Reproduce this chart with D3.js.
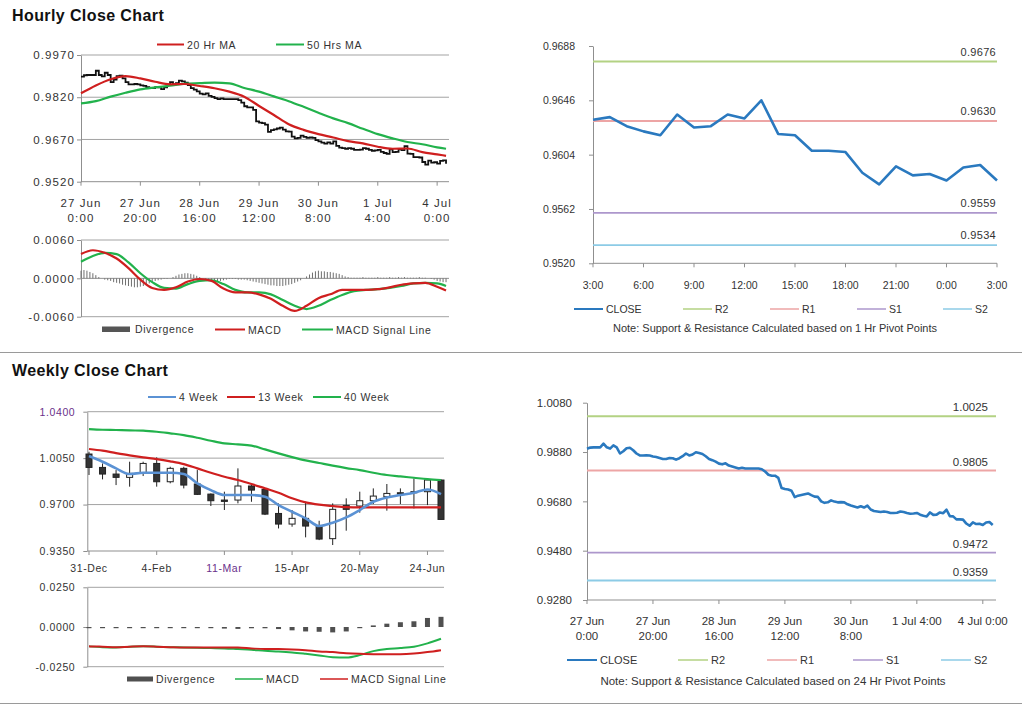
<!DOCTYPE html>
<html><head><meta charset="utf-8">
<script src="https://cdn.jsdelivr.net/npm/d3@7"></script>
<style>
body{margin:0;background:#fff;}
svg{display:block;font-family:"Liberation Sans",Arial,sans-serif;}
</style></head><body>
<svg id="c" width="1024" height="706"></svg>
<script>
// ---------------- DATA ----------------
const hourTickIdx = [0,20,40,60,80,100,120];
const hourLabels = [["27 Jun","0:00"],["27 Jun","20:00"],["28 Jun","16:00"],["29 Jun","12:00"],["30 Jun","8:00"],["1 Jul","4:00"],["4 Jul","0:00"]];
const hourLabelsF = [["27 Jun","0:00"],["27 Jun","20:00"],["28 Jun","16:00"],["29 Jun","12:00"],["30 Jun","8:00"],["1 Jul 4:00"],["4 Jul 0:00"]];

const hourlyClose = [
0.9893,0.9898,0.9899,0.9899,0.9899,0.9914,0.9899,0.9894,0.9907,0.9899,
0.9874,0.9883,0.9895,0.9897,0.9887,0.9874,0.9866,0.9866,0.9867,0.9866,
0.9862,0.9860,0.9856,0.9852,0.9852,0.9856,0.9855,0.9849,0.9855,0.9863,
0.9874,0.9866,0.9870,0.9879,0.9876,0.9872,0.9863,0.9852,0.9847,0.9841,
0.9833,0.9830,0.9834,0.9825,0.9821,0.9817,0.9813,0.9816,0.9813,0.9813,
0.9813,0.9813,0.9813,0.9810,0.9801,0.9788,0.9784,0.9784,0.9775,0.9734,
0.9730,0.9728,0.9723,0.9697,0.9703,0.9706,0.9709,0.9712,0.9705,0.9699,
0.9698,0.9680,0.9674,0.9676,0.9684,0.9679,0.9676,0.9677,0.9676,0.9668,
0.9663,0.9659,0.9655,0.9660,0.9655,0.9663,0.9647,0.9641,0.9639,0.9637,
0.9639,0.9637,0.9633,0.9633,0.9634,0.9639,0.9637,0.9633,0.9630,
0.9631,0.9633,0.9626,0.9622,0.9619,0.9635,0.9625,0.9626,0.9635,0.9632,
0.9646,0.9620,0.9619,0.9607,0.9607,0.9606,0.9590,0.9581,0.9595,0.9588,
0.9589,0.9584,0.9594,0.9596,0.9584];

const maIdx = [0,5,10,15,20,25,30,35,40,45,50,55,60,65,70,75,80,85,90,95,100,105,110,115,120,123];
const ma20 = [0.9834,0.9862,0.9884,0.9895,0.9887,0.9875,0.9866,0.9867,0.9860,0.9852,0.9840,0.9822,0.9789,0.9757,0.9724,0.9704,0.9689,0.9677,0.9664,0.9656,0.9644,0.9637,0.9638,0.9625,0.9617,0.9612];
const ma50 = [0.9798,0.9806,0.9822,0.9836,0.9848,0.9855,0.9861,0.9868,0.9870,0.9872,0.9869,0.9853,0.9840,0.9823,0.9806,0.9786,0.9765,0.9745,0.9728,0.9708,0.9689,0.9674,0.9661,0.9653,0.9642,0.9637];

const macdIdx = [0,4,8,12,16,20,24,28,32,36,40,44,48,52,56,60,64,68,72,76,80,84,88,92,96,100,104,108,112,116,120,123];
const macdH = [0.0038,0.0044,0.0040,0.0031,0.0016,-0.0002,-0.0015,-0.0018,-0.0014,-0.0005,-0.0001,-0.0004,-0.0016,-0.0022,-0.0022,-0.0025,-0.0032,-0.0043,-0.0051,-0.0043,-0.0031,-0.0025,-0.0018,-0.0018,-0.0018,-0.0017,-0.0014,-0.0010,-0.0008,-0.0007,-0.0013,-0.0019];
const signalH = [0.0026,0.0035,0.0040,0.0038,0.0025,0.0008,-0.0006,-0.0015,-0.0016,-0.0009,-0.0004,-0.0003,-0.0009,-0.0018,-0.0022,-0.0022,-0.0025,-0.0034,-0.0043,-0.0048,-0.0043,-0.0034,-0.0026,-0.0020,-0.0018,-0.0017,-0.0015,-0.0012,-0.0008,-0.0007,-0.0008,-0.0012];
const divergenceH = [
0.0012,0.0013,0.0012,0.0010,0.0008,0.0005,0.0002,0.0000,-0.0002,-0.0003,
-0.0004,-0.0006,-0.0007,-0.0008,-0.0010,-0.0011,-0.0012,-0.0013,-0.0014,-0.0014,
-0.0013,-0.0012,-0.0010,-0.0008,-0.0006,-0.0004,-0.0003,-0.0002,-0.0001,-0.0001,
0.0000,0.0002,0.0004,0.0006,0.0007,0.0008,0.0008,0.0007,0.0006,0.0004,
0.0002,0.0000,-0.0002,-0.0003,-0.0004,-0.0005,-0.0005,-0.0004,-0.0003,-0.0002,
-0.0001,-0.0001,-0.0001,-0.0002,-0.0002,-0.0002,-0.0003,-0.0004,-0.0005,-0.0006,
-0.0007,-0.0008,-0.0009,-0.0010,-0.0011,-0.0011,-0.0012,-0.0012,-0.0012,-0.0011,
-0.0010,-0.0009,-0.0007,-0.0005,-0.0003,0.0000,0.0003,0.0006,0.0009,0.0011,
0.0012,0.0011,0.0011,0.0010,0.0010,0.0009,0.0008,0.0007,0.0005,0.0003,
0.0002,0.0001,0.0001,0.0001,0.0001,0.0002,0.0001,0.0001,0.0001,0.0001,
0.0002,0.0001,0.0001,0.0001,0.0002,0.0001,0.0001,0.0002,0.0001,0.0002,
0.0001,0.0001,0.0001,0.0001,0.0002,0.0001,0.0001,0.0000,-0.0001,-0.0002,
-0.0004,-0.0005,-0.0006,-0.0006];

const lastDayLabels = ["3:00","6:00","9:00","12:00","15:00","18:00","21:00","0:00","3:00"];
const lastDayTicks = [0,3,6,9,12,15,18,21,24];
const pivotNames = ["R2","R1","S1","S2"];
const pivotColors = ["#b3d283","#eda5a5","#ad97cc","#8ccbe6"];
const pivot1h = [0.9676,0.9630,0.9559,0.9534];
const pivot24h = [1.0025,0.9805,0.9472,0.9359];

const weekLabels = ["31-Dec","4-Feb","11-Mar","15-Apr","20-May","24-Jun"];
const weekTicks = [0,5,10,15,20,25];
const wOpen  = [1.0081,0.9980,0.9930,0.9905,0.9935,1.0010,0.9872,0.9973,0.9855,0.9779,0.9734,0.9734,0.9840,0.9814,0.9633,0.9553,0.9596,0.9538,0.9443,0.9694,0.9689,0.9729,0.9759,0.9789,0.9797,0.9797,0.9885];
const wHigh  = [1.0098,1.0010,0.9960,1.0023,1.0023,1.0056,0.9985,0.9985,0.9960,0.9784,0.9797,0.9973,0.9847,0.9822,0.9709,0.9659,0.9722,0.9578,0.9709,0.9747,0.9797,0.9822,0.9855,0.9822,0.9897,0.9897,0.9890];
const wLow   = [0.9923,0.9890,0.9847,0.9835,0.9915,0.9835,0.9860,0.9822,0.9772,0.9689,0.9659,0.9709,0.9721,0.9621,0.9520,0.9533,0.9453,0.9432,0.9395,0.9503,0.9639,0.9704,0.9654,0.9704,0.9671,0.9696,0.9588];
const wClose = [0.9980,0.9930,0.9905,0.9935,1.0010,0.9872,0.9973,0.9847,0.9777,0.9729,0.9724,0.9840,0.9809,0.9628,0.9553,0.9596,0.9538,0.9440,0.9664,0.9664,0.9729,0.9764,0.9784,0.9779,0.9789,0.9885,0.9588];
const ma4w  = [1.0066,1.0023,0.9973,0.9930,0.9940,0.9940,0.9940,0.9930,0.9860,0.9809,0.9772,0.9772,0.9772,0.9759,0.9696,0.9646,0.9596,0.9538,0.9563,0.9603,0.9659,0.9721,0.9754,0.9772,0.9789,0.9814,0.9779];
const ma13w = [1.0119,1.0106,1.0088,1.0071,1.0056,1.0043,1.0026,1.0005,0.9973,0.9940,0.9910,0.9885,0.9855,0.9822,0.9789,0.9747,0.9716,0.9699,0.9689,0.9681,0.9679,0.9679,0.9679,0.9679,0.9679,0.9679,0.9679];
const ma40w = [1.0269,1.0264,1.0262,1.0259,1.0257,1.0249,1.0237,1.0224,1.0204,1.0181,1.0161,1.0154,1.0144,1.0116,1.0086,1.0058,1.0033,1.0013,0.9993,0.9975,0.9960,0.9940,0.9923,0.9912,0.9902,0.9892,0.9885];
const wDiv    = [-0.0004,-0.0006,-0.0006,-0.0004,-0.0004,-0.0004,-0.0004,-0.0006,-0.0006,-0.0006,-0.0010,-0.0012,-0.0008,-0.0008,-0.0013,-0.0021,-0.0028,-0.0030,-0.0034,-0.0028,-0.0002,0.0010,0.0021,0.0030,0.0036,0.0057,0.0064];
const wMacd   = [-0.0122,-0.0127,-0.0129,-0.0124,-0.0122,-0.0124,-0.0127,-0.0129,-0.0131,-0.0133,-0.0135,-0.0139,-0.0143,-0.0150,-0.0154,-0.0160,-0.0169,-0.0179,-0.0190,-0.0192,-0.0177,-0.0152,-0.0139,-0.0133,-0.0124,-0.0103,-0.0074];
const wSignal = [-0.0122,-0.0124,-0.0127,-0.0124,-0.0122,-0.0124,-0.0127,-0.0129,-0.0129,-0.0129,-0.0129,-0.0129,-0.0135,-0.0139,-0.0139,-0.0141,-0.0146,-0.0154,-0.0158,-0.0165,-0.0169,-0.0171,-0.0171,-0.0171,-0.0167,-0.0158,-0.0146];

// ---------------- DRAW ----------------
const RED = "#cf1f1f", GREEN = "#22b24c", BLUE = "#2a79bf", BLUE4 = "#5b92d4";
const AX = "#8f8f8f", GRID = "#a3a3a3", TXT = "#333";
const svg = d3.select("#c");
const f4raw = d3.format(".4f");
const f4 = v => f4raw(v).replace("\u2212", "-");

function hline(g, x1, x2, y, color, w){ g.append("line").attr("x1",x1).attr("x2",x2).attr("y1",y).attr("y2",y).attr("stroke",color).attr("stroke-width",w||1); }
function vline(g, x, y1, y2, color, w){ g.append("line").attr("x1",x).attr("x2",x).attr("y1",y1).attr("y2",y2).attr("stroke",color).attr("stroke-width",w||1); }
function txt(g, x, y, s, o){
  o = o || {};
  return g.append("text").attr("x",x).attr("y",y).text(s)
    .attr("font-size",o.size||11).attr("fill",o.fill||TXT)
    .attr("text-anchor",o.anchor||"start")
    .attr("letter-spacing",o.ls||0)
    .attr("font-weight",o.bold?"bold":null);
}
function yAxis(g, scale, ticks, x, pad, fontSize, ls, fmt, colors){
  const ax = d3.axisLeft(scale).tickValues(ticks).tickSize(4).tickSizeOuter(0).tickPadding(pad).tickFormat(fmt||f4);
  const a = g.append("g").attr("transform",`translate(${x},0)`).call(ax);
  a.select(".domain").attr("stroke",AX);
  a.selectAll(".tick line").attr("stroke",AX);
  a.selectAll(".tick text").attr("fill",(d,i)=>colors&&colors[i]?colors[i]:TXT).attr("font-size",fontSize).attr("letter-spacing",ls)
    .attr("font-family",'"Liberation Sans",Arial,sans-serif');
  return a;
}
function xAxisTicks(g, scale, ticks, y, x1, x2){
  hline(g, x1, x2, y, AX);
  ticks.forEach(t => vline(g, scale(t), y, y+4, AX));
}
function legendLine(g, x, y, len, color, label, o){
  hline(g, x, x+len, y, color, o&&o.w||2);
  txt(g, x+len+3, y+4, label, o);
}

// titles & separators
txt(svg, 12, 21, "Hourly Close Chart", {size:16, bold:true, fill:"#111", ls:0.4});
txt(svg, 12, 376, "Weekly Close Chart", {size:16, bold:true, fill:"#111", ls:0.4});
hline(svg, 0, 1022, 352.5, "#9a9a9a", 1.2);
hline(svg, 0, 1022, 703.5, "#9a9a9a", 1.2);

// ---- Panel A: hourly price ----
{
  const g = svg.append("g");
  const x = d3.scaleLinear().domain([0,124]).range([81,449]);
  const y = d3.scaleLinear().domain([0.9520,0.9970]).range([181.7,55]);
  [0.9970,0.9820,0.9670].forEach(v => hline(g, 81, 449, y(v), GRID));
  yAxis(g, y, [0.9520,0.9670,0.9820,0.9970], 81, 2, 11.5, 1.1);
  xAxisTicks(g, x, hourTickIdx, y(0.9520), 81, 449);
  hourTickIdx.forEach((t,i) => {
    txt(g, x(t), 207, hourLabels[i][0], {anchor:"middle", size:11.5, ls:1.1});
    txt(g, x(t), 222, hourLabels[i][1], {anchor:"middle", size:11.5, ls:1.1});
  });
  const step = d3.line().x((d,i)=>x(i)).y(d=>y(d)).curve(d3.curveStepAfter);
  g.append("path").attr("d", step(hourlyClose)).attr("fill","none").attr("stroke","#111").attr("stroke-width",1.8);
  const ln = (arr) => d3.line().x((d,i)=>x(maIdx[i])).y(d=>y(d)).curve(d3.curveMonotoneX)(arr);
  g.append("path").attr("d", ln(ma50)).attr("fill","none").attr("stroke",GREEN).attr("stroke-width",2.2);
  g.append("path").attr("d", ln(ma20)).attr("fill","none").attr("stroke",RED).attr("stroke-width",2.2);
  legendLine(g, 157, 44.5, 27, RED, "20 Hr MA", {size:10.5, ls:0.6});
  legendLine(g, 276, 44.5, 28, GREEN, "50 Hrs MA", {size:10.5, ls:0.6});
}

// ---- Panel B: hourly MACD ----
{
  const g = svg.append("g");
  const x = d3.scaleLinear().domain([0,124]).range([81,449]);
  const y = d3.scaleLinear().domain([-0.006,0.006]).range([316.7,240]);
  hline(g, 81, 449, y(0.006), GRID);
  hline(g, 81, 449, y(-0.006), GRID);
  hline(g, 81, 449, y(0), AX);
  yAxis(g, y, [-0.006,0,0.006], 81, 2, 11.5, 1.1);
  divergenceH.forEach((d,i) => vline(g, x(i), y(0), y(d), "#6f6f6f", 1));
  const ln = (arr) => d3.line().x((d,i)=>x(macdIdx[i])).y(d=>y(d)).curve(d3.curveMonotoneX)(arr);
  g.append("path").attr("d", ln(signalH)).attr("fill","none").attr("stroke",GREEN).attr("stroke-width",2.2);
  g.append("path").attr("d", ln(macdH)).attr("fill","none").attr("stroke",RED).attr("stroke-width",2.2);
  g.append("rect").attr("x",102).attr("y",326.5).attr("width",28).attr("height",5.5).attr("fill","#555");
  txt(g, 135, 333, "Divergence", {size:10.5, ls:0.6});
  legendLine(g, 215, 329.5, 30, RED, "MACD", {size:10.5, ls:0.6});
  legendLine(g, 302, 329.5, 31, GREEN, "MACD Signal Line", {size:10.5, ls:0.6});
}

// ---- Panel C: last 24h with 1h pivots ----
{
  const g = svg.append("g");
  const lastDay = hourlyClose.slice(hourlyClose.length - 25);
  const x = d3.scaleLinear().domain([0,24]).range([593,997]);
  const y = d3.scaleLinear().domain([0.9520,0.9688]).range([263.3,46]);
  yAxis(g, y, [0.9520,0.9562,0.9604,0.9646,0.9688], 593, 14, 10.5, 0);
  xAxisTicks(g, x, lastDayTicks, y(0.9520), 593, 997);
  lastDayTicks.forEach((t,i) => txt(g, x(t), 289, lastDayLabels[i], {anchor:"middle", size:10.5}));
  pivot1h.forEach((v,i) => {
    hline(g, 593, 997, y(v), pivotColors[i], 1.8);
    txt(g, 996, y(v)-6, f4(v), {anchor:"end", size:11, ls:0.3});
  });
  g.append("path").attr("d", d3.line().x((d,i)=>x(i)).y(d=>y(d))(lastDay))
    .attr("fill","none").attr("stroke",BLUE).attr("stroke-width",2.6).attr("stroke-linejoin","round");
  const lx = [574,683,770,857,943];
  ["CLOSE"].concat(pivotNames).forEach((n,i) => legendLine(g, lx[i], 309, 29, i===0?BLUE:pivotColors[i-1], n, {size:10.5, w:i===0?2:1.5}));
  txt(g, 775, 331.5, "Note: Support & Resistance Calculated based on 1 Hr Pivot Points", {anchor:"middle", size:11});
}

// ---- Panel F: full hourly with 24h pivots ----
{
  const g = svg.append("g");
  const x = d3.scaleLinear().domain([0,124]).range([587,996]);
  const y = d3.scaleLinear().domain([0.9280,1.0080]).range([600,402.7]);
  yAxis(g, y, [0.9280,0.9480,0.9680,0.9880,1.0080], 587, 11, 11.5, 0);
  xAxisTicks(g, x, hourTickIdx, y(0.9280), 587, 996);
  hourTickIdx.forEach((t,i) => {
    txt(g, x(t), 625, hourLabelsF[i][0], {anchor:"middle", size:11.5});
    if (hourLabelsF[i][1]) txt(g, x(t), 640, hourLabelsF[i][1], {anchor:"middle", size:11.5});
  });
  pivot24h.forEach((v,i) => {
    hline(g, 587, 996, y(v), pivotColors[i], 1.8);
    txt(g, 988, y(v)-5, f4(v), {anchor:"end", size:11.5});
  });
  g.append("path").attr("d", d3.line().x((d,i)=>x(i)).y(d=>y(d))(hourlyClose))
    .attr("fill","none").attr("stroke",BLUE).attr("stroke-width",2.6).attr("stroke-linejoin","round");
  const lx = [567,678,767,853,941];
  ["CLOSE"].concat(pivotNames).forEach((n,i) => legendLine(g, lx[i], 660, 30, i===0?BLUE:pivotColors[i-1], n, {size:11, w:i===0?2:1.5}));
  txt(g, 773, 685, "Note: Support & Resistance Calculated based on 24 Hr Pivot Points", {anchor:"middle", size:11.5});
}

// ---- Panel D: weekly candles ----
{
  const g = svg.append("g");
  const x = d3.scaleLinear().domain([0,26]).range([89,441]);
  const y = d3.scaleLinear().domain([0.9350,1.0400]).range([551,411.7]);
  [1.0400,1.0050,0.9700].forEach(v => hline(g, 87.3, 444, y(v), GRID));
  yAxis(g, y, [0.9350,0.9700,1.0050,1.0400], 87.3, 8, 10.5, 0.6, f4, [null,null,null,"#6a2f8a"]);
  xAxisTicks(g, x, weekTicks, y(0.9350), 87.3, 444);
  weekTicks.forEach((t,i) => txt(g, x(t), 572, weekLabels[i], {anchor:"middle", size:10.5, ls:0.6, fill:i===2?"#6a2f8a":TXT}));
  wOpen.forEach((o,i) => {
    vline(g, x(i), y(wHigh[i]), y(wLow[i]), "#222", 1);
    const top = y(Math.max(o,wClose[i])), bot = y(Math.min(o,wClose[i]));
    g.append("rect").attr("x",x(i)-3).attr("y",top).attr("width",6).attr("height",Math.max(1,bot-top))
      .attr("fill", wClose[i] < o ? "#333" : "#fff").attr("stroke","#222").attr("stroke-width",1);
  });
  const ln = (arr) => d3.line().x((d,i)=>x(i)).y(d=>y(d)).curve(d3.curveMonotoneX)(arr);
  g.append("path").attr("d", ln(ma40w)).attr("fill","none").attr("stroke",GREEN).attr("stroke-width",2.2);
  g.append("path").attr("d", ln(ma13w)).attr("fill","none").attr("stroke",RED).attr("stroke-width",2.2);
  g.append("path").attr("d", ln(ma4w)).attr("fill","none").attr("stroke",BLUE4).attr("stroke-width",2.6);
  legendLine(g, 148, 397, 28, BLUE4, "4 Week", {size:10.5, ls:0.6});
  legendLine(g, 227, 397, 28, RED, "13 Week", {size:10.5, ls:0.6});
  legendLine(g, 313, 397, 28, GREEN, "40 Week", {size:10.5, ls:0.6});
}

// ---- Panel E: weekly MACD ----
{
  const g = svg.append("g");
  const x = d3.scaleLinear().domain([0,26]).range([89,441]);
  const y = d3.scaleLinear().domain([-0.025,0.025]).range([666.7,587.3]);
  hline(g, 87.3, 444, y(0.025), GRID);
  hline(g, 87.3, 444, y(-0.025), GRID);
  yAxis(g, y, [-0.025,0,0.025], 87.3, 8, 10.5, 0.6);
  wDiv.forEach((d,i) => {
    const a = y(Math.max(0,d)), b = y(Math.min(0,d));
    g.append("rect").attr("x",x(i)-2.5).attr("y",a).attr("width",5).attr("height",Math.max(1.2,b-a)).attr("fill","#505050");
  });
  const ln = (arr) => d3.line().x((d,i)=>x(i)).y(d=>y(d)).curve(d3.curveMonotoneX)(arr);
  g.append("path").attr("d", ln(wMacd)).attr("fill","none").attr("stroke",GREEN).attr("stroke-width",2);
  g.append("path").attr("d", ln(wSignal)).attr("fill","none").attr("stroke",RED).attr("stroke-width",2);
  g.append("rect").attr("x",127).attr("y",676.5).attr("width",26).attr("height",5).attr("fill","#505050");
  txt(g, 156, 683, "Divergence", {size:10.5, ls:0.6});
  legendLine(g, 235, 679, 28, GREEN, "MACD", {size:10.5, ls:0.6, w:1.5});
  legendLine(g, 320, 679, 28, RED, "MACD Signal Line", {size:10.5, ls:0.6, w:1.5});
}
</script>
</body></html>
